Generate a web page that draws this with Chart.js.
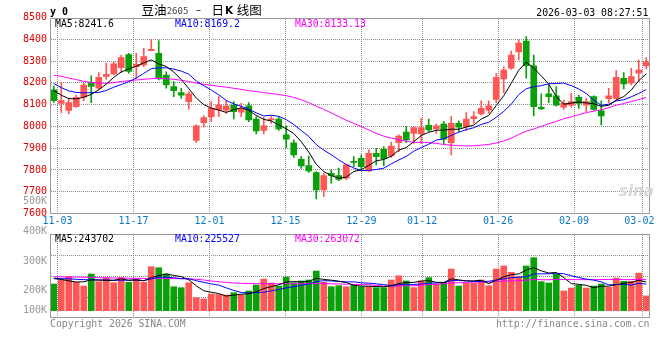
<!DOCTYPE html>
<html lang="zh-CN">
<head>
<meta charset="utf-8">
<title>豆油2605 - 日K线图</title>
<script src="https://cdn.jsdelivr.net/npm/chart.js@4.4.1/dist/chart.umd.min.js"></script>
<style>
html,body{margin:0;padding:0;background:#fff;}
#root{position:relative;width:660px;height:360px;overflow:hidden;background:#fff;}
canvas{position:absolute;left:0;}
#priceCanvas{top:0;}
#volCanvas{top:230px;}
.tx{position:absolute;white-space:nowrap;font-family:"DejaVu Sans Mono",monospace;font-size:9.8px;line-height:12px;color:#000;}
.cjk{position:absolute;white-space:nowrap;font-family:"Noto Sans CJK SC",sans-serif;font-size:12.5px;line-height:14px;color:#000;}
.vl{font-size:10px;color:#999;text-align:right;width:40px;left:7px;}
</style>
</head>
<body>
<div id="root">
<canvas id="priceCanvas" width="660" height="232"></canvas>
<canvas id="volCanvas" width="660" height="100"></canvas>

<div class="tx" style="left:50px;top:5.5px;font-size:10px;font-weight:bold;">y 0</div>
<div class="cjk" style="left:141.5px;top:3px;">豆油</div>
<div class="tx" style="left:166.7px;top:5px;font-size:9px;color:#444;">2605</div>
<div class="tx" style="left:196px;top:4px;font-family:'DejaVu Sans',sans-serif;font-size:10px;">–</div>
<div class="cjk" style="left:211.5px;top:3px;">日</div>
<div class="tx" style="left:225px;top:4px;font-family:'DejaVu Sans',sans-serif;font-size:10.5px;font-weight:bold;">K</div>
<div class="cjk" style="left:236.7px;top:3px;">线图</div>
<div class="tx" style="right:11.7px;top:6.5px;">2026-03-03 08:27:51</div>

<div class="tx" style="left:55px;top:18.2px;color:#000;">MA5:8241.6</div>
<div class="tx" style="left:175px;top:18.2px;color:#0000ff;">MA10:8169.2</div>
<div class="tx" style="left:295px;top:18.2px;color:#ff00ff;">MA30:8133.13</div>

<div class="tx" style="left:619px;top:185px;font-family:'DejaVu Sans',sans-serif;font-size:15px;font-weight:bold;font-style:italic;color:#d6d6d6;">sina</div>

<div id="volLabels"></div>

<div class="tx" style="left:55px;top:232.5px;color:#000;">MA5:243702</div>
<div class="tx" style="left:175px;top:232.5px;color:#0000ff;">MA10:225527</div>
<div class="tx" style="left:295px;top:232.5px;color:#ff00ff;">MA30:263072</div>

<div class="tx" style="left:50px;top:318.2px;color:#888;">Copyright 2026 SINA.COM</div>
<div class="tx" style="right:10.7px;top:318.2px;color:#888;">http://finance.sina.com.cn</div>
</div>

<script>
// ---------------- data ----------------
const dates = ['10-31',
 '11-03','11-04','11-05','11-06','11-07','11-10','11-11','11-12','11-13','11-14',
 '11-17','11-18','11-19','11-20','11-21','11-24','11-25','11-26','11-27','11-28',
 '12-01','12-02','12-03','12-04','12-05','12-08','12-09','12-10','12-11','12-12',
 '12-15','12-16','12-17','12-18','12-19','12-22','12-23','12-24','12-25','12-26',
 '12-29','12-30','12-31','01-05','01-06','01-07','01-08','01-09',
 '01-12','01-13','01-14','01-15','01-16','01-19','01-20','01-21','01-22','01-23',
 '01-26','01-27','01-28','01-29','01-30','02-02','02-03','02-04','02-05','02-06',
 '02-09','02-10','02-11','02-12','02-13','02-24','02-25','02-26','02-27',
 '03-02','03-03'];
// sina's date grid uses one slot fewer than the candle grid
const axisDates = dates.slice(0, 79);
const labeledDates = ['11-03','11-17','12-01','12-15','12-29','01-12','01-26','02-09','03-02'];
const priceTicks = [7600,7700,7800,7900,8000,8100,8200,8300,8400,8500];
const volTickLabels = ['500K','400K','300K','200K','100K'];

const opens = [8168,8106,8073,8091,8134,8201,8175,8229,8241,8270,
 8330,8274,8282,8348,8336,8236,8183,8155,8114,7935,
 8017,8045,8075,8075,8098,8065,8094,8034,7981,8030,
 8034,7961,7925,7849,7820,7788,7708,7785,7774,7762,
 7837,7853,7795,7876,7895,7864,7925,7974,7968,7965,
 8005,7988,8011,7925,8014,7999,8036,8057,8075,8124,
 8218,8267,8342,8392,8278,8088,8149,8140,8088,8098,
 8134,8098,8137,8072,8127,8129,8221,8198,8244,8278];
const highs = [8185,8201,8129,8144,8198,8232,8247,8290,8297,8328,
 8336,8336,8359,8400,8394,8251,8206,8175,8160,8007,
 8048,8114,8137,8117,8114,8106,8109,8045,8042,8045,
 8045,8002,7938,7861,7864,7792,7785,7800,7808,7827,
 7861,7869,7892,7899,7907,7928,7961,7999,7998,8037,
 8034,8011,8022,8045,8025,8063,8068,8117,8117,8244,
 8274,8346,8397,8412,8328,8149,8190,8183,8121,8152,
 8144,8129,8140,8117,8175,8256,8247,8267,8305,8316];
const lows = [8110,8063,8057,8088,8118,8109,8167,8216,8236,8247,
 8244,8221,8274,8346,8213,8175,8137,8129,8079,7925,
 7996,8022,8045,8060,8034,8045,8022,7965,7965,8014,
 7982,7902,7858,7807,7789,7667,7677,7739,7751,7757,
 7815,7804,7792,7823,7820,7858,7884,7925,7922,7922,
 7976,7968,7919,7869,7976,7981,8014,8052,8060,8109,
 8155,8262,8305,8221,8048,8078,8109,8094,8078,8088,
 8083,8068,8075,8007,8109,8121,8172,8190,8206,8264];
const closes = [8118,8118,8109,8134,8190,8183,8225,8239,8287,8316,
 8252,8285,8320,8354,8224,8190,8164,8143,8149,8003,
 8040,8083,8098,8094,8068,8080,8030,7979,8002,8034,
 7988,7941,7869,7818,7795,7708,7774,7774,7757,7823,
 7835,7815,7876,7861,7852,7910,7956,7938,7994,7994,
 7984,8002,7941,8014,7996,8034,8045,8083,8094,8225,
 8259,8328,8382,8279,8091,8080,8137,8098,8106,8114,
 8106,8114,8078,8048,8140,8225,8195,8229,8259,8297];

const ma5 = [8165,8143,8128,8126,8134,8147,8168,8194,8225,8250,
 8264,8276,8292,8305,8287,8275,8250,8215,8174,8130,
 8100,8084,8075,8064,8077,8085,8074,8050,8032,8025,
 8007,7989,7967,7930,7882,7826,7793,7774,7762,7767,
 7793,7801,7821,7842,7848,7863,7891,7903,7930,7958,
 7973,7982,7983,7987,7987,7997,8006,8034,8050,8096,
 8141,8198,8258,8295,8268,8232,8194,8137,8102,8107,
 8112,8108,8104,8092,8097,8121,8137,8167,8210,8241.6];
const ma10 = [8197,8178,8163,8156,8154,8155,8156,8165,8180,8192,
 8205,8222,8243,8265,8269,8269,8263,8254,8240,8208,
 8187,8167,8145,8119,8103,8092,8079,8062,8048,8051,
 8046,8031,8009,7981,7954,7916,7891,7870,7846,7825,
 7809,7797,7798,7802,7808,7828,7846,7862,7886,7903,
 7918,7937,7943,7959,7973,7985,7994,8009,8019,8042,
 8069,8102,8146,8173,8182,8187,8196,8197,8199,8187,
 8172,8151,8120,8097,8102,8117,8122,8136,8151,8169.2];
const ma30 = [8235,8230,8222,8215,8207,8202,8199,8198,8201,8206,
 8210,8213,8216,8219,8221,8219,8216,8212,8206,8199,
 8193,8189,8184,8180,8175,8170,8164,8160,8155,8151,
 8146,8141,8133,8122,8109,8093,8078,8062,8045,8028,
 8014,7999,7984,7968,7955,7946,7939,7932,7927,7927,
 7925,7922,7917,7914,7912,7910,7911,7914,7917,7924,
 7933,7946,7963,7978,7988,8000,8012,8023,8035,8044,
 8054,8063,8070,8076,8086,8097,8105,8114,8123,8133.13];

const volumes = [226000,260000,288000,241000,209000,311000,246000,280000,237000,280000,
 241000,268000,241000,373000,364000,311000,203000,195000,237000,110000,
 99000,141000,137000,133000,152000,133000,167000,218000,268000,235000,
 209000,285000,237000,252000,260000,336000,241000,203000,212000,203000,
 218000,203000,203000,195000,195000,260000,296000,252000,195000,252000,
 280000,224000,241000,353000,209000,232000,232000,260000,212000,353000,
 379000,325000,288000,379000,449000,246000,235000,308000,167000,192000,
 216000,192000,209000,226000,198000,277000,249000,249000,319000,125000];
const volMa5 = [272000,265000,253000,243000,244800,261800,259000,257400,256600,270800,
 256800,261200,253400,280600,297400,311400,298400,289200,262000,211200,
 168800,156400,144800,124000,132400,139200,144400,160600,187600,204200,
 219400,243000,246800,243600,248600,274000,265200,258400,250400,239000,
 215400,207800,207800,204400,202800,211200,229800,239600,239600,251000,
 255000,240600,238400,270000,261400,251800,253400,257200,229000,257800,
 287200,305800,311400,344800,364000,337400,319400,323400,281000,229600,
 223600,215000,195200,207000,208200,220400,231800,239800,258400,243702];
const volMa10 = [275000,272000,270000,266000,263000,262000,261000,260000,258000,257800,
 259300,260100,255400,268600,284100,284100,279800,271300,271300,254300,
 240100,227400,217000,193000,171800,154000,150400,152700,155800,168300,
 179300,193700,203700,215600,226400,246700,254100,252600,247000,243800,
 244700,236500,233100,227400,220900,213300,218800,223700,222000,226900,
 233100,235200,239000,254800,256200,253400,247000,247800,249500,259600,
 269500,279600,284300,286900,310900,312300,312600,317400,312900,296800,
 280500,267200,259300,244000,218900,222000,223400,217500,232700,225527];
const volMa30 = [288000,287000,286000,285000,284000,282000,280000,278000,277000,276000,
 275000,274000,274000,274000,274000,273000,272000,271000,270000,266000,
 260000,252000,245000,240000,235000,232000,230000,229000,229000,229100,
 228500,229400,227700,228000,229700,230600,230400,227800,227000,224400,
 223700,221500,220200,214300,208700,207000,210100,212000,210600,215300,
 221300,224100,227600,234900,236800,240100,242300,243700,241800,245700,
 251400,252700,254400,258700,265000,262000,261800,265300,263800,263400,
 263300,263000,263200,264200,264300,264900,263300,263200,267300,263072];

// ---------------- styles ----------------
const RED = '#ff5656';
const GREEN = '#0aa00a';
const GRID = '#8c8c8c';
const MONO = 'DejaVu Sans Mono';
Chart.defaults.font.family = MONO;

const candleColors = closes.map((c, i) => c >= opens[i] ? RED : GREEN);

const framePlugin = {
  id: 'frame',
  afterDraw(chart) {
    const a = chart.chartArea, ctx = chart.ctx;
    const l = Math.round(a.left) + 0.5, t = Math.round(a.top) + 0.5;
    const r = Math.round(a.right) - 0.5, b = Math.round(a.bottom) - 0.5;
    ctx.save();
    ctx.strokeStyle = '#999';
    ctx.lineWidth = 1;
    ctx.strokeRect(l, t, r - l, b - t);
    ctx.restore();
  }
};

// crisp dotted grid (1px dots, 1px gaps). Vertical lines sit on the slot
// boundaries of the 79-slot date axis; horizontal lines at the y values
// returned by yValues(chart).
function dottedGrid(yValues) {
  return {
    id: 'dottedGrid',
    afterDatasetsDraw(chart) {
      const ctx = chart.ctx, a = chart.chartArea;
      const top = Math.round(a.top), bottom = Math.round(a.bottom);
      const left = Math.round(a.left), right = Math.round(a.right);
      const slot = (a.right - a.left) / axisDates.length;
      ctx.save();
      ctx.globalCompositeOperation = 'destination-over';
      ctx.fillStyle = GRID;
      for (let i = 0; i < axisDates.length; i++) {
        if (labeledDates.indexOf(axisDates[i]) < 0) continue;
        const x = Math.round(a.left + slot * i - 0.5);
        for (let y = top + 1; y < bottom - 1; y += 2) ctx.fillRect(x, y, 1, 1);
      }
      const ys = yValues(chart);
      for (let k = 0; k < ys.length; k++) {
        const y = Math.round(ys[k] - 0.5);
        for (let x = left + 1; x < right - 1; x += 2) ctx.fillRect(x, y, 1, 1);
      }
      ctx.restore();
    }
  };
}
const priceGridY = chart => priceTicks.slice(1, -1).map(v => chart.scales.y.getPixelForValue(v));
const volGridY = chart => {
  const a = chart.chartArea;
  return [1, 2, 3].map(k => a.top + (a.bottom - a.top) * k / 4);
};

// last date label is kept inside the frame, as on sina
const dateLabel = (v, i) => {
  const d = axisDates[i];
  if (!labeledDates.includes(d)) return '';
  return i === axisDates.length - 1 ? d + '\u00a0' : d;
};

function lineDs(label, data, color) {
  return {type: 'line', label, data, borderColor: color, borderWidth: 1, pointRadius: 0,
          tension: 0, fill: false, order: 0, xAxisID: 'x', yAxisID: 'y'};
}

// volume tick labels (sina places them on its own fixed rows)
const volLabelTops = [195.2, 224.9, 254.9, 283.7, 304.4];
const vlHost = document.getElementById('volLabels');
volTickLabels.forEach((t, k) => {
  const d = document.createElement('div');
  d.className = 'tx vl';
  d.style.top = volLabelTops[k] + 'px';
  d.textContent = t;
  vlHost.appendChild(d);
});

// ---------------- price chart ----------------
new Chart(document.getElementById('priceCanvas'), {
  type: 'bar',
  data: {
    labels: dates,
    datasets: [
      lineDs('MA5', ma5, '#000000'),
      lineDs('MA10', ma10, '#0000ff'),
      lineDs('MA30', ma30, '#ff00ff'),
      {label: 'body', data: opens.map((o, i) => [o, closes[i]]), backgroundColor: candleColors,
       barThickness: 6, minBarLength: 1, grouped: false, borderWidth: 0, order: 1, xAxisID: 'x', yAxisID: 'y'},
      {label: 'wick', data: lows.map((l, i) => [l, highs[i]]), backgroundColor: candleColors,
       barThickness: 1, grouped: false, borderWidth: 0, order: 2, xAxisID: 'x', yAxisID: 'y'}
    ]
  },
  options: {
    responsive: false, animation: false, events: [],
    layout: {padding: {left: 0, right: 10, top: 17.5, bottom: 0}},
    plugins: {legend: {display: false}, tooltip: {enabled: false}, title: {display: false}},
    scales: {
      x: {type: 'category', display: false, offset: true},
      x2: {
        type: 'category', labels: axisDates, position: 'bottom', offset: true, display: true,
        grid: {display: false, drawTicks: false},
        border: {display: false},
        ticks: {autoSkip: false, maxRotation: 0, minRotation: 0, padding: 2, labelOffset: -3.8,
                color: '#0a78c8', font: {family: MONO, size: 10}, callback: dateLabel},
        afterFit: s => { s.height = 18.5; s.paddingLeft = 0; s.paddingRight = 0; }
      },
      y: {
        type: 'linear', position: 'left', min: priceTicks[0], max: priceTicks[priceTicks.length - 1],
        afterBuildTicks: s => { s.ticks = priceTicks.map(v => ({value: v})); },
        grid: {display: false, drawTicks: false},
        border: {display: false},
        ticks: {padding: 3, color: '#e00000', font: {family: MONO, size: 10}, callback: v => String(v)},
        afterFit: s => { s.width = 50; }
      }
    }
  },
  plugins: [dottedGrid(priceGridY), framePlugin]
});

// ---------------- volume chart ----------------
new Chart(document.getElementById('volCanvas'), {
  type: 'bar',
  data: {
    labels: dates,
    datasets: [
      lineDs('VMA5', volMa5, '#000000'),
      lineDs('VMA10', volMa10, '#0000ff'),
      lineDs('VMA30', volMa30, '#ff00ff'),
      {label: 'volume', data: volumes, backgroundColor: candleColors, barThickness: 6,
       borderWidth: 0, order: 1, xAxisID: 'x', yAxisID: 'y'}
    ]
  },
  options: {
    responsive: false, animation: false, events: [],
    layout: {padding: {left: 0, right: 10, top: 4, bottom: 12}},
    plugins: {legend: {display: false}, tooltip: {enabled: false}},
    scales: {
      x: {type: 'category', display: false, offset: true},
      y: {
        type: 'linear', position: 'left', min: -62000, max: 650000, display: true,
        grid: {display: false, drawTicks: false},
        border: {display: false},
        ticks: {display: false},
        afterFit: s => { s.width = 50; }
      }
    }
  },
  plugins: [dottedGrid(volGridY), framePlugin]
});
</script>
</body>
</html>
